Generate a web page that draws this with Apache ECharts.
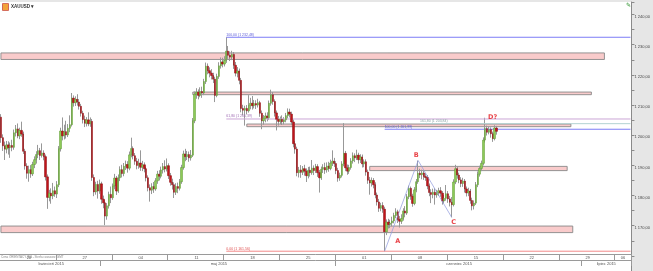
<!DOCTYPE html>
<html><head><meta charset="utf-8">
<script src="https://cdn.jsdelivr.net/npm/echarts@6/dist/echarts.min.js"></script>
<style>html,body{margin:0;padding:0;background:#e6e6e6}#c{width:653px;height:271px}</style>
</head><body><div id="c"></div>
<script>
// ---- data ----
const symbolName = 'XAUUSD';
const footerText = 'Cena ORIENTACYJNA - Strefa czasowa: GMT';
const weekLabels = ['20','27','04','11','18','25','01','08','15','22','29','06'];
const monthLabels = ['kwiecień 2015','maj 2015','czerwiec 2015','lipiec 2015'];
const monthStarts = [0, 54, 180, 312];      // category index where each month begins
const firstDay = '2015-04-20';
const visibleCount = 339;                    // H4 slots visible on the axis
// H4 candles: [open, close, low, high]
const ohlc = [
[1206.0,1199.2,1197.5,1207.0],[1199.2,1196.5,1194.8,1200.3],[1196.5,1195.4,1191.8,1197.9],[1195.4,1196.8,1194.0,1198.1],[1196.8,1195.9,1193.6,1198.0],
[1195.9,1196.6,1192.5,1197.6],[1196.6,1196.0,1194.7,1198.5],[1196.0,1200.8,1195.2,1201.9],[1200.8,1202.1,1199.6,1203.4],[1202.1,1199.8,1199.0,1203.9],
[1199.8,1201.6,1198.7,1202.5],[1201.6,1200.4,1199.5,1204.5],[1200.4,1194.7,1193.8,1201.2],[1194.7,1189.8,1188.6,1195.5],[1189.8,1187.4,1185.6,1190.7],
[1187.4,1188.6,1184.6,1189.9],[1188.6,1187.2,1185.9,1190.1],[1187.2,1190.3,1186.5,1191.2],[1190.3,1191.9,1189.1,1193.0],[1191.9,1193.6,1190.6,1194.7],
[1193.6,1194.9,1192.4,1196.8],[1194.9,1193.3,1191.8,1195.8],[1193.3,1194.1,1192.6,1197.3],[1194.1,1192.9,1191.7,1195.0],[1192.9,1186.2,1185.0,1193.6],
[1186.2,1179.4,1175.6,1187.0],[1179.4,1180.8,1178.1,1181.9],[1180.8,1179.9,1177.3,1182.4],[1179.9,1181.6,1178.8,1184.2],[1181.6,1180.5,1179.6,1183.0],
[1180.5,1183.6,1179.2,1184.8],[1183.6,1195.5,1182.8,1196.4],[1195.5,1201.4,1194.6,1202.5],[1201.4,1199.8,1198.3,1205.9],[1199.8,1201.2,1198.6,1203.5],
[1201.2,1200.1,1198.9,1204.8],[1200.1,1202.3,1199.4,1203.7],[1202.3,1203.5,1201.0,1206.6],[1203.5,1212.3,1202.9,1214.0],[1212.3,1210.8,1209.5,1213.2],
[1210.8,1211.9,1209.7,1212.9],[1211.9,1211.0,1209.8,1213.6],[1211.0,1209.6,1208.5,1212.0],[1209.6,1207.3,1206.2,1210.4],[1207.3,1205.2,1203.9,1208.1],
[1205.2,1204.0,1202.7,1206.5],[1204.0,1205.1,1202.9,1206.0],[1205.1,1203.8,1203.0,1207.6],[1203.8,1204.6,1202.8,1205.9],[1204.6,1186.0,1184.9,1205.4],
[1186.0,1181.2,1179.8,1187.0],[1181.2,1183.7,1180.3,1184.6],[1183.7,1181.5,1179.0,1184.9],[1181.5,1183.9,1180.6,1185.3],[1183.9,1178.8,1177.3,1184.6],
[1178.8,1177.6,1175.8,1180.0],[1177.6,1173.2,1170.2,1178.5],[1173.2,1176.6,1172.0,1177.5],[1176.6,1180.4,1175.7,1181.3],[1180.4,1179.3,1177.5,1183.0],
[1179.3,1183.2,1178.6,1184.0],[1183.2,1185.8,1182.1,1187.2],[1185.8,1181.5,1180.2,1186.5],[1181.5,1185.9,1180.9,1187.0],[1185.9,1188.6,1184.8,1189.7],
[1188.6,1187.3,1186.0,1190.2],[1187.3,1189.7,1186.4,1190.8],[1189.7,1190.3,1188.5,1191.6],[1190.3,1189.1,1187.6,1191.4],[1189.1,1193.5,1188.4,1194.6],
[1193.5,1195.6,1192.7,1199.2],[1195.6,1193.2,1192.0,1196.3],[1193.2,1191.4,1190.2,1194.1],[1191.4,1190.0,1188.7,1192.5],[1190.0,1190.8,1188.9,1192.2],
[1190.8,1189.4,1188.2,1195.0],[1189.4,1190.2,1188.1,1191.5],[1190.2,1188.9,1187.7,1191.0],[1188.9,1185.9,1184.7,1189.6],[1185.9,1182.6,1181.4,1186.7],
[1182.6,1181.8,1178.0,1183.7],[1181.8,1183.0,1180.5,1184.1],[1183.0,1182.2,1180.9,1184.5],[1182.2,1184.9,1181.6,1185.8],[1184.9,1187.1,1183.9,1188.2],
[1187.1,1186.4,1185.0,1188.4],[1186.4,1188.5,1185.7,1189.6],[1188.5,1189.6,1187.3,1190.8],[1189.6,1188.8,1187.7,1191.7],[1188.8,1189.9,1188.0,1192.3],
[1189.9,1186.6,1185.5,1190.7],[1186.6,1184.4,1183.3,1187.5],[1184.4,1183.6,1182.0,1185.6],[1183.6,1181.1,1179.2,1184.4],[1181.1,1183.0,1180.2,1184.1],
[1183.0,1182.4,1180.8,1184.3],[1182.4,1184.6,1181.7,1185.5],[1184.6,1189.3,1183.9,1190.2],[1189.3,1193.8,1188.6,1194.9],[1193.8,1192.9,1191.4,1195.5],
[1192.9,1193.6,1191.8,1194.8],[1193.6,1192.5,1191.2,1194.6],[1192.5,1193.4,1191.6,1195.1],[1193.4,1204.8,1192.8,1205.7],[1204.8,1213.6,1204.0,1214.5],
[1213.6,1214.3,1212.1,1215.6],[1214.3,1213.2,1211.9,1215.2],[1213.2,1214.5,1212.6,1215.9],[1214.5,1214.0,1212.4,1216.1],[1214.0,1217.8,1213.3,1218.7],
[1217.8,1222.9,1217.0,1224.1],[1222.9,1221.4,1220.2,1223.8],[1221.4,1220.6,1219.2,1222.5],[1220.6,1219.8,1218.5,1221.9],[1219.8,1218.6,1217.3,1220.7],
[1218.6,1213.2,1211.0,1219.4],[1213.2,1219.5,1212.6,1220.4],[1219.5,1223.0,1218.7,1224.2],[1223.0,1224.3,1222.1,1225.8],[1224.3,1223.6,1222.5,1225.7],
[1223.6,1224.8,1222.8,1226.2],[1224.8,1227.9,1224.0,1232.48],[1227.9,1226.5,1225.3,1229.6],[1226.5,1225.9,1224.6,1227.8],[1225.9,1226.8,1224.9,1228.0],
[1226.8,1223.2,1222.0,1227.6],[1223.2,1220.6,1219.5,1224.3],[1220.6,1221.3,1219.2,1222.6],[1221.3,1218.2,1216.9,1222.1],[1218.2,1208.9,1207.6,1219.0],
[1208.9,1208.3,1206.6,1210.1],[1208.3,1208.9,1203.2,1209.8],[1208.9,1208.1,1206.9,1210.0],[1208.1,1209.9,1207.5,1213.3],[1209.9,1210.6,1208.6,1212.4],
[1210.6,1209.8,1208.5,1213.0],[1209.8,1210.5,1208.9,1211.7],[1210.5,1210.0,1208.7,1211.6],[1210.0,1210.8,1209.2,1212.1],[1210.8,1207.3,1206.1,1211.4],
[1207.3,1204.8,1202.0,1208.2],[1204.8,1205.6,1203.5,1206.7],[1205.6,1206.4,1204.3,1207.5],[1206.4,1205.8,1204.6,1207.6],[1205.8,1210.6,1205.1,1211.5],
[1210.6,1213.4,1209.8,1215.1],[1213.4,1211.2,1210.1,1214.3],[1211.2,1207.4,1206.2,1211.9],[1207.4,1205.3,1201.6,1208.2],[1205.3,1204.6,1203.2,1206.4],
[1204.6,1205.3,1203.7,1206.2],[1205.3,1204.5,1203.4,1206.6],[1204.5,1205.1,1203.6,1206.0],[1205.1,1206.5,1204.3,1207.4],[1206.5,1207.7,1205.6,1208.9],
[1207.7,1207.0,1205.9,1208.8],[1207.0,1204.4,1203.3,1207.8],[1204.4,1197.2,1196.0,1205.2],[1197.2,1195.4,1193.9,1198.1],[1195.4,1187.6,1186.4,1196.2],
[1187.6,1188.5,1186.0,1189.5],[1188.5,1187.7,1185.9,1190.1],[1187.7,1188.9,1186.8,1189.8],[1188.9,1188.1,1186.6,1190.2],[1188.1,1186.6,1184.5,1189.0],
[1186.6,1188.4,1185.7,1189.5],[1188.4,1187.6,1186.3,1189.6],[1187.6,1189.1,1186.9,1191.8],[1189.1,1188.3,1186.8,1190.0],[1188.3,1189.6,1187.5,1190.5],
[1189.6,1187.6,1186.2,1190.4],[1187.6,1185.9,1181.0,1188.5],[1185.9,1188.7,1185.2,1189.6],[1188.7,1189.3,1187.5,1190.4],[1189.3,1188.5,1187.2,1190.9],
[1188.5,1189.8,1187.6,1191.0],[1189.8,1189.0,1187.9,1191.2],[1189.0,1190.8,1188.4,1191.9],[1190.8,1191.4,1189.8,1195.0],[1191.4,1190.6,1189.5,1192.5],
[1190.6,1188.3,1187.1,1191.4],[1188.3,1185.8,1184.6,1189.2],[1185.8,1186.7,1184.9,1187.6],[1186.7,1190.5,1186.0,1191.4],[1190.5,1194.0,1189.7,1204.0],
[1194.0,1189.2,1188.1,1194.8],[1189.2,1188.1,1186.9,1190.3],[1188.1,1189.3,1187.2,1190.2],[1189.3,1191.5,1188.6,1192.4],[1191.5,1193.2,1190.6,1194.3],
[1193.2,1192.5,1191.1,1194.0],[1192.5,1193.4,1191.8,1195.2],[1193.4,1191.9,1190.6,1194.2],[1191.9,1192.8,1190.8,1193.7],[1192.8,1190.5,1189.3,1193.6],
[1190.5,1191.2,1189.4,1192.0],[1191.2,1187.8,1186.6,1192.0],[1187.8,1185.1,1183.9,1188.6],[1185.1,1184.2,1180.3,1186.2],[1184.2,1185.0,1183.0,1186.0],
[1185.0,1183.6,1182.4,1185.8],[1183.6,1180.2,1179.1,1184.4],[1180.2,1177.9,1176.7,1181.0],[1177.9,1175.8,1174.6,1178.9],[1175.8,1176.7,1174.8,1177.6],
[1176.7,1175.5,1174.3,1177.8],[1175.5,1168.0,1161.56,1176.3],[1168.0,1171.2,1166.9,1172.1],[1171.2,1170.4,1169.1,1172.3],[1170.4,1170.9,1169.2,1172.0],
[1170.9,1171.6,1169.8,1173.0],[1171.6,1173.4,1170.8,1174.3],[1173.4,1174.6,1172.5,1175.8],[1174.6,1172.1,1170.9,1175.3],[1172.1,1171.5,1169.4,1173.2],
[1171.5,1172.4,1170.6,1173.8],[1172.4,1174.9,1171.7,1175.8],[1174.9,1174.2,1172.8,1176.5],[1174.2,1179.6,1173.6,1180.5],[1179.6,1182.4,1178.8,1183.3],
[1182.4,1179.8,1178.6,1183.0],[1179.8,1177.4,1176.3,1180.6],[1177.4,1181.9,1176.8,1182.8],[1181.9,1184.6,1181.1,1185.5],[1184.6,1187.4,1183.9,1191.6],
[1187.4,1186.9,1185.8,1188.9],[1186.9,1187.5,1185.4,1188.6],[1187.5,1186.3,1185.2,1188.3],[1186.3,1186.0,1184.9,1187.4],[1186.0,1183.2,1182.1,1186.8],
[1183.2,1181.0,1179.8,1184.0],[1181.0,1180.4,1177.5,1182.1],[1180.4,1181.1,1179.1,1182.3],[1181.1,1180.2,1177.0,1182.4],[1180.2,1181.0,1179.3,1181.9],
[1181.0,1181.6,1179.9,1182.6],[1181.6,1180.8,1179.6,1182.8],[1180.8,1178.2,1177.0,1181.5],[1178.2,1179.1,1177.4,1180.2],[1179.1,1180.6,1178.3,1183.5],
[1180.6,1178.9,1177.6,1181.5],[1178.9,1177.8,1176.4,1179.9],[1177.8,1177.0,1172.8,1179.5],[1177.0,1184.5,1176.4,1185.4],[1184.5,1188.9,1183.8,1190.2],
[1188.9,1186.8,1185.6,1189.6],[1186.8,1185.2,1184.1,1187.6],[1185.2,1184.0,1182.8,1186.1],[1184.0,1184.8,1182.9,1185.9],[1184.8,1182.2,1181.0,1185.5],
[1182.2,1180.9,1179.7,1183.0],[1180.9,1181.5,1179.8,1182.6],[1181.5,1178.4,1177.3,1182.2],[1178.4,1176.6,1175.1,1179.3],[1176.6,1177.5,1175.4,1178.4],
[1177.5,1183.6,1176.9,1184.5],[1183.6,1187.1,1182.8,1188.0],[1187.1,1189.0,1186.3,1189.9],[1189.0,1190.7,1188.1,1191.6],[1190.7,1198.4,1190.0,1199.3],
[1198.4,1202.2,1197.6,1205.8],[1202.2,1201.0,1199.9,1203.2],[1201.0,1201.9,1200.3,1202.8],[1201.9,1200.5,1199.2,1202.6],[1200.5,1198.9,1197.8,1201.2],
[1198.9,1202.4,1198.3,1203.3],[1202.4,1201.3,1200.2,1203.1]
];
// support / resistance zones: [startIndex, endIndex, lowPrice, highPrice]
const zones = [
  [0, 324, 1225.12, 1227.29],
  [103, 317, 1213.45, 1214.32],
  [132, 306, 1202.84, 1203.72],
  [198, 304, 1188.28, 1189.68],
  [0, 307, 1167.73, 1169.90]
];
// Fibonacci levels: [levelText, price, startIndex]
const fibLevels = [
  ['100,00', 1232.48, 121],
  ['61,80', 1205.39, 121],
  ['0,00', 1161.56, 121],
  ['161,80', 1203.84, 225],
  ['100,00', 1201.99, 206]
];
// ABC pattern pivots: [index, price]
const abcPoints = [[206, 1161.56], [224, 1191.6], [242, 1172.8]];
// pattern letters: [text, index, price]
const patternLabels = [['A', 213, 1164.7], ['B', 223, 1193.2], ['C', 243, 1171.2], ['D?', 264, 1205.9]];

// ---- styles ----
const fibColors = ['#7c7cf6', '#cba6d6', '#f28a8a', '#b4d4d4', '#7c7cf6'];
const fibTextColors = ['#5a5ad8', '#a06eb4', '#e05050', '#8aa6a6', '#5a5ad8'];
const FONT = 'Liberation Sans';

// ---- build ----
const categories = [];
const t0 = Date.parse(firstDay + 'T00:00:00Z');
for (let w = 0; categories.length < visibleCount; w++)
  for (let d = 0; d < 5; d++)
    for (let h = 0; h < 6; h++) {
      const dt = new Date(t0 + (w * 7 + d) * 86400000 + h * 4 * 3600000);
      categories.push(dt.toISOString().slice(0, 16).replace('T', ' '));
    }
categories.length = visibleCount;

const monthMids = monthStarts.map((s, i) => Math.floor((s + (monthStarts[i + 1] ?? visibleCount)) / 2));
const lastWeekStart = Math.floor((visibleCount - 1) / 30) * 30;
const lastWeekMid = Math.floor((lastWeekStart + visibleCount - 1) / 2);
const fmtPrice = v => {
  const r = Math.round(v * 100) / 100;
  const ip = Math.floor(r), th = Math.floor(ip / 1000), rest = ip % 1000;
  const dec = Math.round((r - ip) * 100);
  return (th ? th + ' ' + String(rest).padStart(3, '0') : String(rest)) + ',' + String(dec).padStart(2, '0');
};
const bodies = ohlc.map(d => [d[0], d[1], Math.min(d[0], d[1]), Math.max(d[0], d[1])]);

const fibSeries = fibLevels.map((f, k) => ({
  name: 'fib' + k, type: 'line', silent: true, z: 4,
  symbol: 'circle', symbolSize: 0, showSymbol: true, showAllSymbol: true,
  itemStyle: { color: fibColors[k] },
  lineStyle: { color: fibColors[k], width: 1, type: 'solid' },
  emphasis: { disabled: true },
  data: [
    { value: [f[2], f[1]],
      label: { show: true, position: 'right', distance: 0, offset: [0, -2.6], align: 'left',
        fontSize: 3.5, color: fibTextColors[k], fontFamily: FONT,
        formatter: f[0] + ' (' + fmtPrice(f[1]) + ')' } },
    { value: [visibleCount - 1, f[1]] }
  ]
}));

const chart = echarts.init(document.getElementById('c'), null, { renderer: 'canvas' });
chart.setOption({
  animation: false,
  backgroundColor: '#e6e6e6',
  textStyle: { fontFamily: FONT },
  title: [
    { text: '{i|}{t|' + symbolName + ' ▾}', left: 3, top: 4, padding: 0,
      textStyle: { rich: {
        i: { width: 5, height: 6, backgroundColor: '#f2a23a', borderColor: '#c8402a', borderWidth: 0.8 },
        t: { fontSize: 4.5, color: '#333', fontFamily: FONT, padding: [0, 0, 0, 3] } } } },
    { text: footerText, left: 1, top: 255.5, padding: 0,
      textStyle: { fontSize: 3, color: '#8a8a8a', fontWeight: 'normal', fontFamily: FONT } },
    { text: '✎', right: 22, top: 2, padding: 0,
      textStyle: { fontSize: 6, color: '#3c9a3c', fontWeight: 'normal', fontFamily: 'DejaVu Sans' } }
  ],
  grid: { left: 0, right: 20, top: 2, bottom: -6, show: true, backgroundColor: '#ffffff', borderWidth: 0 },
  xAxis: [
    { type: 'category', data: categories, boundaryGap: true, position: 'bottom', offset: -17,
      axisLine: { show: true, lineStyle: { color: '#9a9a9a', width: 1 } },
      axisTick: { show: true, length: 6, interval: i => i % 30 === 0 && i > 0, lineStyle: { color: '#9a9a9a' } },
      axisLabel: { interval: i => (i % 30 === 15) || i === lastWeekMid, margin: 1.5, fontSize: 4, color: '#555',
        formatter: (v, i) => weekLabels[Math.floor(i / 30)] },
      splitLine: { show: false } },
    { type: 'category', data: categories, boundaryGap: true, position: 'bottom', offset: -11,
      axisLine: { show: true, lineStyle: { color: '#9a9a9a', width: 1 } },
      axisTick: { show: true, length: 6, interval: i => monthStarts.indexOf(i) > 0, lineStyle: { color: '#9a9a9a' } },
      axisLabel: { interval: i => monthMids.indexOf(i) >= 0, margin: 1.5, fontSize: 4, color: '#555',
        formatter: (v, i) => monthLabels[monthMids.indexOf(i)] },
      splitLine: { show: false } }
  ],
  yAxis: {
    type: 'value', position: 'right', min: 1155, max: 1244.17, interval: 5, scale: true,
    axisLine: { show: true, lineStyle: { color: '#8a8a8a' } },
    axisTick: { show: true, length: 3, lineStyle: { color: '#8a8a8a' } },
    axisLabel: { fontSize: 4, color: '#444', margin: 3, verticalAlign: 'top',
      formatter: v => (Math.abs(v % 10) < 1e-6 && v >= 1165 && v <= 1240) ? fmtPrice(v) : '' },
    splitLine: { show: false }
  },
  series: [
    { name: 'wicks', type: 'candlestick', data: ohlc, barWidth: 0.6, z: 2, silent: true,
      itemStyle: { color: 'rgba(0,0,0,0)', color0: 'rgba(0,0,0,0)', borderColor: '#989898', borderColor0: '#989898', borderWidth: 1 },
      markArea: { silent: true, z: 1,
        itemStyle: { color: '#f9cbcb', borderColor: '#888888', borderWidth: 0.9 },
        data: zones.map(z => [{ coord: [z[0], z[3]] }, { coord: [z[1], z[2]] }]) } },
    ...fibSeries,
    { name: symbolName, type: 'candlestick', data: bodies, barWidth: 1.8, z: 5,
      itemStyle: { color: '#8dc957', color0: '#c0141a', borderColor: '#5d9a30', borderColor0: '#8a0b0f', borderWidth: 0.5 } },
    { name: 'ABC', type: 'line', data: abcPoints, symbol: 'none', z: 6, silent: true,
      lineStyle: { color: '#8c98dc', width: 0.7 } },
    { name: 'pattern', type: 'scatter', symbolSize: 1, itemStyle: { color: 'rgba(0,0,0,0)' }, z: 7, silent: true,
      data: patternLabels.map(p => ({ name: p[0], value: [p[1], p[2]] })),
      label: { show: true, position: 'inside', formatter: '{b}', fontSize: 6.5, fontWeight: 'bold', color: '#e3141a',
        fontFamily: 'DejaVu Sans', textBorderWidth: 0 } }
  ]
});
</script>
</body></html>
